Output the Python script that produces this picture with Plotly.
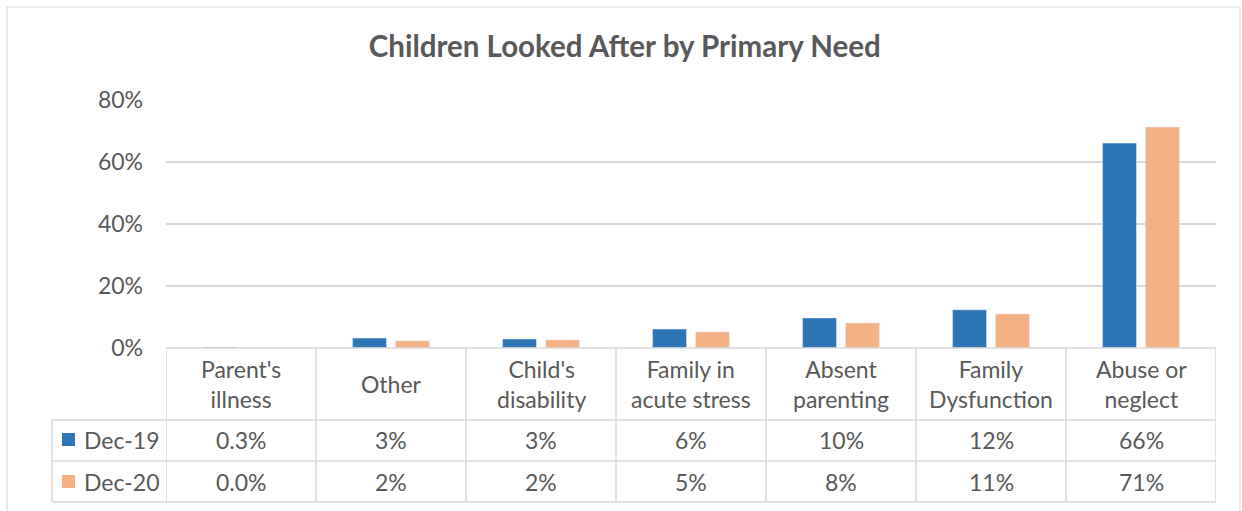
import plotly.graph_objects as go

categories = ["Parent's illness", "Other", "Child's disability", "Family in acute stress",
              "Absent parenting", "Family Dysfunction", "Abuse or neglect"]
header_labels = ["Parent's<br>illness", "Other", "Child's<br>disability", "Family in<br>acute stress",
                 "Absent<br>parenting", "Family<br>Dysfunction", "Abuse or<br>neglect"]
dec19 = [0.003, 0.032, 0.029, 0.061, 0.097, 0.123, 0.661]
dec20 = [0.000, 0.023, 0.026, 0.052, 0.081, 0.110, 0.713]
dec19_labels = ["0.3%", "3%", "3%", "6%", "10%", "12%", "66%"]
dec20_labels = ["0.0%", "2%", "2%", "5%", "8%", "11%", "71%"]
series_names = ["Dec-19", "Dec-20"]
y_ticks = [0, 0.2, 0.4, 0.6, 0.8]
y_tick_labels = ["0%", "20%", "40%", "60%", "80%"]

BLUE = "#2E75B6"
ORANGE = "#F4B183"
TXT = "#595959"
GRID = "#D9D9D9"
FONT = "Lato"

fig = go.Figure()
fig.add_trace(go.Bar(x=categories, y=dec19, name=series_names[0], marker_color=BLUE))
fig.add_trace(go.Bar(x=categories, y=dec20, name=series_names[1], marker_color=ORANGE))

W, H = 1242, 511
L, R, T, B = 166, 26, 100, 163
pw = W - L - R
ph = H - T - B

def px_x(px):
    return (px - L) / pw

def px_y(py):
    return (H - B - py) / ph

shapes = []
line = dict(color=GRID, width=1.5)
# outer chart border
shapes.append(dict(type="rect", xref="paper", yref="paper",
                   x0=px_x(7), x1=px_x(1240), y0=px_y(530), y1=px_y(7),
                   line=dict(color=GRID, width=1.2), layer="below"))
# table lines
y_top = 0
y_h1 = px_y(420)
y_h2 = px_y(461)
y_h3 = px_y(502)
x_left = px_x(52)
shapes.append(dict(type="line", xref="paper", yref="paper", x0=0, x1=1, y0=y_top, y1=y_top, line=line))
for yy in (y_h1, y_h2, y_h3):
    shapes.append(dict(type="line", xref="paper", yref="paper", x0=x_left, x1=1, y0=yy, y1=yy, line=line))
shapes.append(dict(type="line", xref="paper", yref="paper", x0=x_left, x1=x_left, y0=y_h1, y1=y_h3, line=line))
for i in range(len(categories) + 1):
    shapes.append(dict(type="line", xref="x", yref="paper", x0=i - 0.5, x1=i - 0.5,
                       y0=y_top, y1=y_h3, line=line))

# legend keys
for name, color, (ya, yb) in zip(series_names, [BLUE, ORANGE], [(433, 446), (475, 488)]):
    shapes.append(dict(type="rect", xref="paper", yref="paper",
                       x0=px_x(62), x1=px_x(75), y0=px_y(yb), y1=px_y(ya),
                       fillcolor=color, line=dict(width=0)))

annotations = []
tf = dict(family=FONT, size=23, color=TXT)
for cat, lab in zip(categories, header_labels):
    annotations.append(dict(x=cat, y=px_y(384), xref="x", yref="paper", text=lab,
                            showarrow=False, font=tf, xanchor="center", yanchor="middle"))
for labels, yc in ((dec19_labels, 440), (dec20_labels, 482)):
    for cat, lab in zip(categories, labels):
        annotations.append(dict(x=cat, y=px_y(yc), xref="x", yref="paper", text=lab,
                                showarrow=False, font=tf, xanchor="center", yanchor="middle"))
for name, yc in zip(series_names, (440, 482)):
    annotations.append(dict(x=px_x(82), y=px_y(yc), xref="paper", yref="paper", text=name,
                            showarrow=False, font=tf, xanchor="left", yanchor="middle"))

fig.update_layout(
    width=W, height=H,
    margin=dict(l=L, r=R, t=T, b=B),
    paper_bgcolor="white", plot_bgcolor="white",
    showlegend=False,
    barmode="group", bargap=0.427, bargroupgap=0.21,
    title=dict(text="<b>Children Looked After by Primary Need</b>", x=0.503, xanchor="center",
               y=1 - 47 / H, yanchor="middle", font=dict(family=FONT, size=29.5, color=TXT)),
    xaxis=dict(showticklabels=False, showgrid=False, zeroline=False, showline=False,
               range=[-0.5, len(categories) - 0.5]),
    yaxis=dict(range=[0, 0.8], tickvals=y_ticks, ticktext=y_tick_labels,
               showgrid=True, gridcolor=GRID, gridwidth=1.5, zeroline=False, showline=False,
               tickfont=dict(family=FONT, size=23, color=TXT), ticklabelstandoff=22),
    shapes=shapes, annotations=annotations,
)

fig.write_html("out.html")
